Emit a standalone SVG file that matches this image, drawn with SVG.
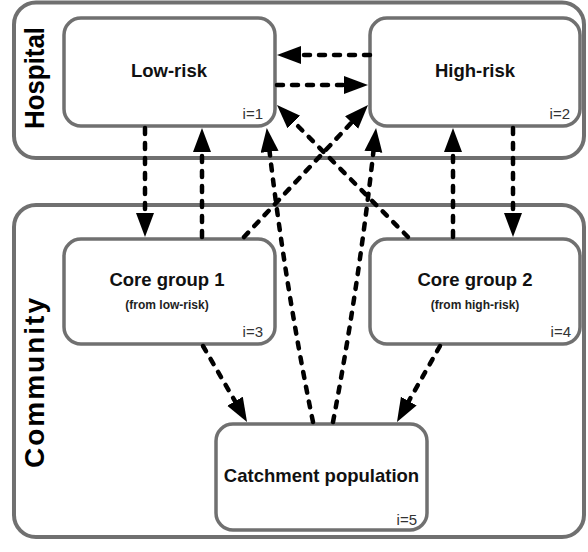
<svg xmlns="http://www.w3.org/2000/svg" width="588" height="552" viewBox="0 0 588 552">
  <style>
    .group { fill: #ffffff; stroke: #707070; stroke-width: 4; }
    .box { fill: #ffffff; stroke: #707070; stroke-width: 3.5; }
    .title { font-family: "Liberation Sans", Arial, sans-serif; font-weight: bold; font-size: 18.5px; fill: #111111; text-anchor: middle; }
    .sub { font-family: "Liberation Sans", Arial, sans-serif; font-weight: bold; font-size: 12px; fill: #222222; text-anchor: middle; }
    .idx { font-family: "Liberation Sans", Arial, sans-serif; font-size: 15px; fill: #333333; text-anchor: end; }
    .grp { font-family: "Liberation Sans", Arial, sans-serif; font-weight: bold; font-size: 28px; fill: #000000; text-anchor: middle; }
    .conn { fill: none; stroke: #000000; stroke-width: 4.5; stroke-dasharray: 6 9; stroke-linecap: round; }
  </style>
  <defs>
    <marker id="arrow" markerUnits="userSpaceOnUse" markerWidth="26" markerHeight="20" refX="0" refY="9" orient="auto">
      <path d="M0,0 L24,9 L0,18 Z" fill="#000000"/>
    </marker>
  </defs>

  <g id="hospital">
    <rect class="group" x="14" y="2.5" width="570" height="155.5" rx="22" ry="22"/>
    <text class="grp" transform="translate(44,78) rotate(-90)" textLength="102" lengthAdjust="spacingAndGlyphs">Hospital</text>
  </g>
  <g id="community">
    <rect class="group" x="14" y="205" width="570" height="332" rx="22" ry="22"/>
    <text class="grp" transform="translate(44,383) rotate(-90)" textLength="170" lengthAdjust="spacing">Community</text>
  </g>

  <g id="low-risk">
    <rect class="box" x="64" y="18" width="211" height="108" rx="17" ry="17"/>
    <text class="title" x="169" y="77">Low-risk</text>
    <text class="idx" x="263" y="119">i=1</text>
  </g>
  <g id="high-risk">
    <rect class="box" x="370" y="18" width="210" height="108" rx="17" ry="17"/>
    <text class="title" x="475" y="77">High-risk</text>
    <text class="idx" x="570" y="119">i=2</text>
  </g>
  <g id="core-group-1">
    <rect class="box" x="64" y="239" width="211" height="105" rx="17" ry="17"/>
    <text class="title" x="167" y="286">Core group 1</text>
    <text class="sub" x="167" y="309">(from low-risk)</text>
    <text class="idx" x="263" y="337">i=3</text>
  </g>
  <g id="core-group-2">
    <rect class="box" x="370" y="239" width="210" height="105" rx="17" ry="17"/>
    <text class="title" x="475" y="286">Core group 2</text>
    <text class="sub" x="475" y="309">(from high-risk)</text>
    <text class="idx" x="571" y="337">i=4</text>
  </g>
  <g id="catchment">
    <rect class="box" x="216" y="424" width="211" height="106" rx="17" ry="17"/>
    <text class="title" x="321.5" y="482">Catchment population</text>
    <text class="idx" x="417" y="525">i=5</text>
  </g>

  <g id="connectors">
    <path class="conn" marker-end="url(#arrow)" d="M370,55 L301,55"/>
    <path class="conn" marker-end="url(#arrow)" d="M277,85 L344,85"/>
    <path class="conn" marker-end="url(#arrow)" d="M145,128 L145,213"/>
    <path class="conn" marker-end="url(#arrow)" d="M202,237 L202,152"/>
    <path class="conn" marker-end="url(#arrow)" d="M453,237 L453,152"/>
    <path class="conn" marker-end="url(#arrow)" d="M513,128 L513,213"/>
    <path class="conn" marker-end="url(#arrow)" d="M244,237 L351.6,122.5"/>
    <path class="conn" marker-end="url(#arrow)" d="M408,237 L293.9,122"/>
    <path class="conn" marker-end="url(#arrow)" d="M203,346 L235,401.2"/>
    <path class="conn" marker-end="url(#arrow)" d="M440,346 L408.8,401.1"/>
    <path class="conn" marker-end="url(#arrow)" d="M313,422 Q286,290 269.6,151.8"/>
    <path class="conn" marker-end="url(#arrow)" d="M333,422 Q358,290 373.4,151.8"/>
  </g>
</svg>
